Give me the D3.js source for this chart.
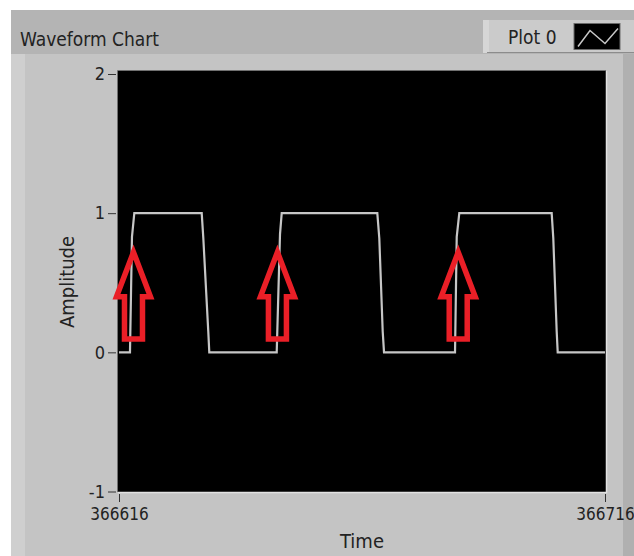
<!DOCTYPE html>
<html>
<head>
<meta charset="utf-8">
<script src="https://cdn.jsdelivr.net/npm/d3@7"></script>
<style>
  html, body { margin: 0; padding: 0; background: #ffffff; }
  svg { display: block; }
  text { font-family: "DejaVu Sans Condensed", "DejaVu Sans", sans-serif; fill: #222222; }
</style>
</head>
<body>
<svg id="chart" width="634" height="556"></svg>
<script>
// Labels
const chartTitle = "Waveform Chart";
const plotName = "Plot 0";
const xLabel = "Time";
const yLabel = "Amplitude";

// Axis extents and ticks
const timeStart = 366616;
const timeEnd = 366716;
const xTickValues = [366616, 366716];
const yDomain = [-1, 2];
const yTickValues = [-1, 0, 1, 2];

// Waveform samples (time offset from timeStart, amplitude)
const sampleOffsets = [0, 2.26, 2.67, 3.15, 17.02, 17.35, 18.37, 18.58,
  32.45, 33.13, 33.48, 53.15, 53.56, 54.26, 54.53,
  69.14, 69.49, 70.02, 89.03, 89.36, 90.06, 90.27, 100];
const amplitudes = [0, 0, 0.83, 1, 1, 0.82, 0.15, 0,
  0, 0.85, 1, 1, 0.82, 0.15, 0,
  0, 0.83, 1, 1, 0.82, 0.15, 0, 0];

// Rising-edge markers (time offset) and arrow span in amplitude units
const markerOffsets = [2.98, 32.6, 69.8];
const arrowTip = 0.72;
const arrowWing = 0.40;
const arrowBase = 0.095;

const svg = d3.select("#chart");

// Panel background
svg.append("rect").attr("x", 11).attr("y", 10).attr("width", 623).attr("height", 546).attr("fill", "#c4c4c4");
svg.append("rect").attr("x", 11).attr("y", 10).attr("width", 623).attr("height", 44).attr("fill", "#b4b4b4");
svg.append("rect").attr("x", 11).attr("y", 54).attr("width", 14).attr("height", 502).attr("fill", "#cfcfcf");
svg.append("rect").attr("x", 623).attr("y", 54).attr("width", 11).attr("height", 502).attr("fill", "#b0b0b0");

// Title
svg.append("text").attr("x", 20).attr("y", 46).attr("font-size", 19).text(chartTitle);

// Legend
const legend = svg.append("g");
legend.append("rect").attr("x", 483).attr("y", 20).attr("width", 151).attr("height", 33).attr("fill", "#cbcbcb");
legend.append("rect").attr("x", 483).attr("y", 20).attr("width", 6).attr("height", 33).attr("fill", "#d6d6d6");
legend.append("line").attr("x1", 487).attr("x2", 634).attr("y1", 52.5).attr("y2", 52.5).attr("stroke", "#8c8c8c").attr("stroke-width", 1);
legend.append("text").attr("x", 508).attr("y", 44).attr("font-size", 19).text(plotName);
legend.append("rect").attr("x", 574).attr("y", 23.5).attr("width", 46).attr("height", 26).attr("fill", "#000000").attr("stroke", "#6a6a6a");
legend.append("path").attr("d", "M578,46.5L590,30.5L605,43.5L618,28.5").attr("fill", "none").attr("stroke", "#c8c8c8").attr("stroke-width", 1.5);

// Plot area
const plot = { left: 118, right: 606, top: 71, bottom: 492 };
const x = d3.scaleLinear().domain([timeStart, timeEnd]).range([119, 605]);
const y = d3.scaleLinear().domain(yDomain).range([491.5, 74]);

svg.append("rect").attr("x", plot.left).attr("y", plot.top)
  .attr("width", plot.right - plot.left).attr("height", plot.bottom - plot.top).attr("fill", "#000000");
svg.append("path").attr("d", `M${plot.left - 0.5},${plot.bottom}V${plot.top - 0.5}H${plot.right}`)
  .attr("fill", "none").attr("stroke", "#707070").attr("stroke-width", 1);
svg.append("path").attr("d", `M${plot.left},${plot.bottom + 0.5}H${plot.right + 0.5}V${plot.top}`)
  .attr("fill", "none").attr("stroke", "#e2e2e2").attr("stroke-width", 1.5);

// Plain integer labels with an ASCII hyphen for negatives
const intLabel = d => String(Math.round(d));

// Axes
const yAxis = d3.axisLeft(y).tickValues(yTickValues).tickSize(8).tickPadding(3).tickFormat(intLabel);
const gy = svg.append("g").attr("transform", `translate(116,0)`).call(yAxis);
gy.select(".domain").remove();
gy.selectAll(".tick line").attr("stroke", "#333333");
gy.selectAll(".tick text").attr("font-size", 18).attr("font-family", null).style("fill", "#222");

const xAxis = d3.axisBottom(x).tickValues(xTickValues).tickSize(8).tickPadding(6).tickFormat(intLabel);
const gx = svg.append("g").attr("transform", `translate(0,494)`).call(xAxis);
gx.select(".domain").remove();
gx.selectAll(".tick line").attr("stroke", "#333333");
gx.selectAll(".tick text").attr("font-size", 17).attr("font-family", null).style("fill", "#222");

// Axis titles
svg.append("text").attr("x", 362).attr("y", 548).attr("text-anchor", "middle").attr("font-size", 20).text(xLabel);
svg.append("text").attr("transform", "translate(74,282) rotate(-90)").attr("text-anchor", "middle").attr("font-size", 20).text(yLabel);

// Waveform
const data = sampleOffsets.map((t, i) => ({ t: timeStart + t, v: amplitudes[i] }));
const line = d3.line().x(d => x(d.t)).y(d => y(d.v));
svg.append("path").datum(data).attr("d", line)
  .attr("fill", "none").attr("stroke", "#c6c6c6").attr("stroke-width", 2.2).attr("stroke-linejoin", "miter");

// Rising-edge arrows
const wingHalf = 17, shaftHalf = 9;
svg.append("g").selectAll("path").data(markerOffsets).join("path")
  .attr("d", t => {
    const cx = x(timeStart + t);
    const yt = y(arrowTip), yw = y(arrowWing), yb = y(arrowBase);
    return `M${cx},${yt}L${cx + wingHalf},${yw}L${cx + shaftHalf},${yw}L${cx + shaftHalf},${yb}` +
      `L${cx - shaftHalf},${yb}L${cx - shaftHalf},${yw}L${cx - wingHalf},${yw}Z`;
  })
  .attr("fill", "none").attr("stroke", "#ea1f27").attr("stroke-width", 5.5).attr("stroke-linejoin", "miter");
</script>
</body>
</html>
